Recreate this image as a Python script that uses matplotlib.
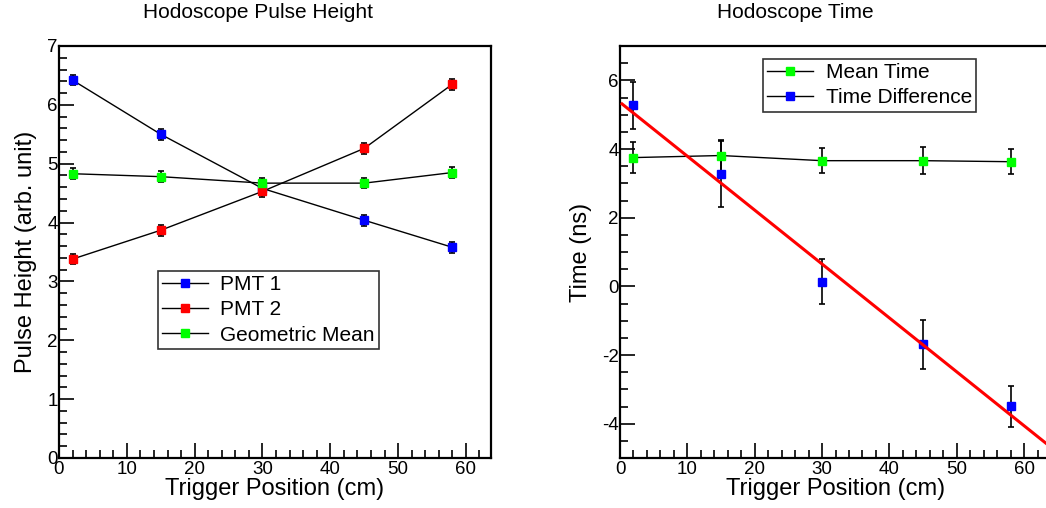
import matplotlib
matplotlib.use("Agg")
import matplotlib.pyplot as plt
from matplotlib.lines import Line2D
from matplotlib.ticker import MultipleLocator
import numpy as np

plt.rcParams['font.family'] = ['Liberation Sans', 'DejaVu Sans']
plt.rcParams['axes.unicode_minus'] = False

# ---- data ----
positions = [2, 15, 30, 45, 58]
pmt1 = [6.42, 5.50, 4.58, 4.04, 3.58]
pmt1_err = [0.09, 0.09, 0.09, 0.09, 0.09]
pmt2 = [3.38, 3.87, 4.53, 5.26, 6.35]
pmt2_err = [0.09, 0.09, 0.09, 0.09, 0.09]
geo_mean = [4.83, 4.78, 4.67, 4.67, 4.85]
geo_err = [0.09, 0.09, 0.09, 0.09, 0.09]

mean_time = [3.75, 3.81, 3.66, 3.66, 3.63]
mean_time_err = [0.45, 0.45, 0.37, 0.40, 0.36]
time_diff = [5.27, 3.27, 0.14, -1.69, -3.49]
time_diff_err = [0.69, 0.97, 0.65, 0.72, 0.60]
fit_slope = -0.157
fit_intercept = 5.36
fit_range = [0.3, 64.0]

fig = plt.figure(figsize=(10.46, 5.08), dpi=100)

def style_axis(ax):
    for s in ax.spines.values():
        s.set_linewidth(1.6)
    ax.tick_params(which='both', direction='in', top=False, right=False,
                   labelsize=13.5, width=1.2, pad=2)
    ax.tick_params(axis='y', which='both', pad=1)
    ax.tick_params(which='major', length=11)
    ax.tick_params(which='minor', length=6)
    ax.xaxis.set_major_locator(MultipleLocator(10))
    ax.xaxis.set_minor_locator(MultipleLocator(2))

def series(ax, x, y, e, color, label):
    ax.errorbar(x, y, yerr=e, fmt='none', ecolor='black', elinewidth=1.2,
                capsize=2.2, capthick=1.2, zorder=2)
    ax.plot(x, y, color='black', lw=1.0, zorder=3)
    ax.plot(x, y, ls='none', marker='s', ms=6, mfc=color, mec=color, zorder=4, label=label)

# ---- left panel ----
ax1 = fig.add_axes([59/1046, 50/508, 432/1046, 412/508])
style_axis(ax1)
series(ax1, positions, pmt1, pmt1_err, '#0000ff', 'PMT 1')
series(ax1, positions, pmt2, pmt2_err, '#ff0000', 'PMT 2')
series(ax1, positions, geo_mean, geo_err, '#00ff00', 'Geometric Mean')
ax1.set_xlim(0, 63.7)
ax1.set_ylim(0, 7)
ax1.yaxis.set_major_locator(MultipleLocator(1))
ax1.yaxis.set_minor_locator(MultipleLocator(0.2))
ax1.set_xlabel('Trigger Position (cm)', fontsize=17, labelpad=0)
ax1.set_ylabel('Pulse Height (arb. unit)', fontsize=17, labelpad=7)

def handle(color):
    return Line2D([0], [0], color='black', lw=1.0, marker='s', ms=6, mfc=color, mec=color)

leg1 = fig.legend([handle('#0000ff'), handle('#ff0000'), handle('#00ff00')],
                  ['PMT 1', 'PMT 2', 'Geometric Mean'],
                  loc='upper left', bbox_to_anchor=(158/1046, 1 - 271/508),
                  fontsize=15, frameon=True, fancybox=False, edgecolor='black',
                  handlelength=2.2, borderpad=0.2, labelspacing=0.3, handletextpad=0.6,
                  borderaxespad=0)
leg1.get_frame().set_linewidth(1.2)

# ---- right panel ----
ax2 = fig.add_axes([620/1046, 50/508, 431/1046, 412/508])
style_axis(ax2)
series(ax2, positions, mean_time, mean_time_err, '#00ff00', 'Mean Time')
ax2.errorbar(positions, time_diff, yerr=time_diff_err, fmt='none', ecolor='black',
             elinewidth=1.2, capsize=2.2, capthick=1.2, zorder=2)
ax2.plot(positions, time_diff, ls='none', marker='s', ms=6, mfc='#0000ff', mec='#0000ff', zorder=4)
fx = np.array(fit_range)
ax2.plot(fx, fit_intercept + fit_slope * fx, color='#ff0000', lw=2.2, zorder=5)
ax2.set_xlim(0, 64)
ax2.set_ylim(-5, 7)
ax2.yaxis.set_major_locator(MultipleLocator(2))
ax2.yaxis.set_minor_locator(MultipleLocator(0.5))
ax2.set_xlabel('Trigger Position (cm)', fontsize=17, labelpad=0)
ax2.set_ylabel('Time (ns)', fontsize=17, labelpad=7)

leg2 = fig.legend([handle('#00ff00'), handle('#0000ff')],
                  ['Mean Time', 'Time Difference'],
                  loc='upper left', bbox_to_anchor=(763/1046, 1 - 59/508),
                  fontsize=15, frameon=True, fancybox=False, edgecolor='black',
                  handlelength=2.2, borderpad=0.2, labelspacing=0.3, handletextpad=0.6,
                  borderaxespad=0)
leg2.get_frame().set_linewidth(1.2)

fig.text(258/1046, 1 - 12/508, 'Hodoscope Pulse Height', ha='center', va='center', fontsize=15)
fig.text(795/1046, 1 - 12/508, 'Hodoscope Time', ha='center', va='center', fontsize=15)

fig.savefig('out.png', dpi=100)
